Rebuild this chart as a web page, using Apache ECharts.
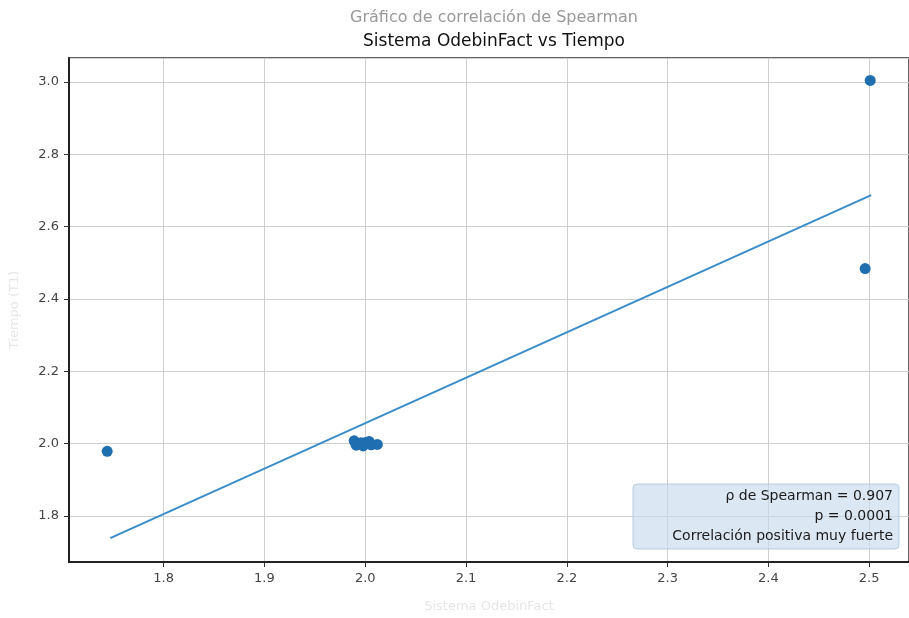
<!DOCTYPE html>
<html>
<head>
<meta charset="utf-8">
<script src="https://cdn.jsdelivr.net/npm/echarts@6/dist/echarts.min.js"></script>
<style>
html,body{margin:0;padding:0;background:#fff;}
#chart{width:909px;height:618px;}
</style>
</head>
<body>
<div id="chart"></div>
<script>
const titleMain = 'Gráfico de correlación de Spearman';
const titleSub = 'Sistema OdebinFact vs Tiempo';
const xName = 'Sistema OdebinFact';
const yName = 'Tiempo (T1)';
const pointsX = [1.744, 1.989, 1.991, 1.996, 1.998, 2.001, 2.004, 2.006, 2.012, 2.496, 2.501];
const pointsY = [1.979, 2.008, 1.996, 2.003, 1.994, 2.004, 2.006, 1.997, 1.998, 2.484, 3.004];
const lineX = [1.747, 2.502];
const lineY = [1.739, 2.687];
const statsLines = ['ρ de Spearman = 0.907', 'p = 0.0001', 'Correlación positiva muy fuerte'];

const chart = echarts.init(document.getElementById('chart'));
const font = 'DejaVu Sans';
chart.setOption({
  backgroundColor: '#ffffff',
  animation: false,
  title: [
    {text: titleMain, left: 489, top: 5, textAlign: 'center',
     textStyle: {fontFamily: font, fontSize: 16, fontWeight: 'normal', color: '#999'}},
    {text: titleSub, left: 489, top: 28, textAlign: 'center',
     textStyle: {fontFamily: font, fontSize: 17, fontWeight: 'normal', color: '#111'}}
  ],
  grid: {left: 68, top: 58, right: -2, bottom: 47, show: true, borderColor: '#333', borderWidth: 1.5},
  xAxis: {
    type: 'value', min: 1.7061, max: 2.5395, minInterval: 0.1, maxInterval: 0.1,
    name: xName, nameLocation: 'middle', nameGap: 38,
    nameTextStyle: {fontFamily: font, fontSize: 13, color: '#e6e6e6'},
    axisLine: {show: true, onZero: false, lineStyle: {color: '#222', width: 2}},
    axisTick: {show: true, length: 5, lineStyle: {color: '#333'}},
    axisLabel: {fontFamily: font, fontSize: 13, color: '#444', margin: 10,
      showMinLabel: false, showMaxLabel: false, formatter: v => v.toFixed(1)},
    splitLine: {show: true, lineStyle: {color: '#cfcfcf', width: 1}}
  },
  yAxis: {
    type: 'value', min: 1.6732, max: 3.066, minInterval: 0.2, maxInterval: 0.2,
    name: yName, nameLocation: 'middle', nameGap: 48, nameRotate: 90,
    nameTextStyle: {fontFamily: font, fontSize: 13, color: '#e6e6e6'},
    axisLine: {show: true, onZero: false, lineStyle: {color: '#222', width: 2}},
    axisTick: {show: true, length: 5, lineStyle: {color: '#333'}},
    axisLabel: {fontFamily: font, fontSize: 13, color: '#444', margin: 10,
      showMinLabel: false, showMaxLabel: false, formatter: v => v.toFixed(1)},
    splitLine: {show: true, lineStyle: {color: '#cfcfcf', width: 1}}
  },
  series: [
    {type: 'line', data: lineX.map((x, i) => [x, lineY[i]]), symbol: 'none',
     lineStyle: {color: '#3a8cc8', width: 2}, z: 2},
    {type: 'scatter', data: pointsX.map((x, i) => [x, pointsY[i]]), symbolSize: 11,
     itemStyle: {color: '#1f6fb0', opacity: 1}, z: 3}
  ],
  graphic: [
    {type: 'rect', shape: {x: 633, y: 484, width: 266, height: 65, r: 4},
     style: {fill: 'rgba(200,218,236,0.65)', stroke: 'rgba(170,195,220,0.8)', lineWidth: 1}, z: 10},
    {type: 'text', x: 893, y: 486, z: 11,
     style: {text: statsLines.join('\n'), align: 'right', verticalAlign: 'top',
       fontFamily: font, fontSize: 14, lineHeight: 20, fill: '#1a1a1a'}}
  ]
});
</script>
</body>
</html>
